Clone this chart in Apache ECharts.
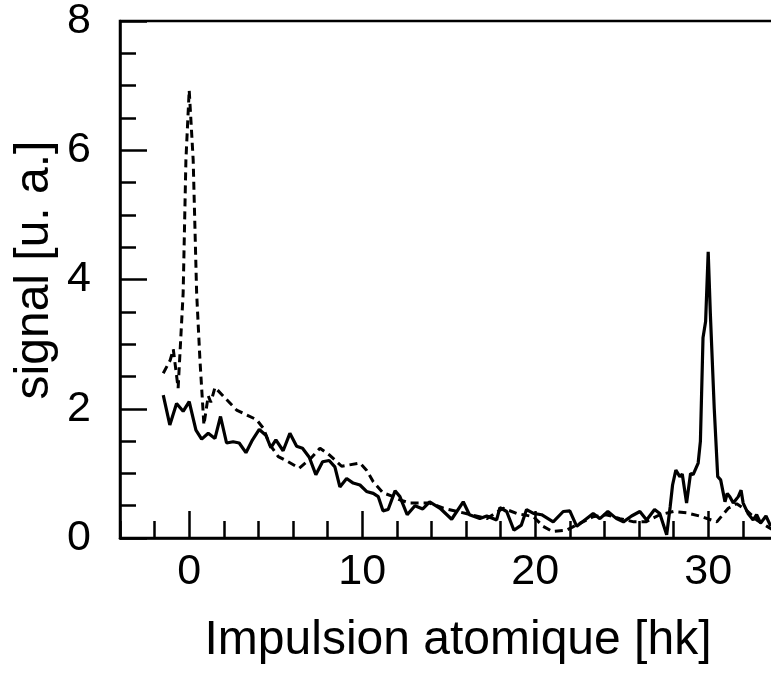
<!DOCTYPE html>
<html>
<head>
<meta charset="utf-8">
<script src="https://cdn.jsdelivr.net/npm/echarts@6/dist/echarts.min.js"></script>
<style>html,body{margin:0;padding:0;background:#fff;}#c{width:771px;height:681px;}</style>
</head>
<body>
<div id="c"></div>
<script>
// Data
const solidX = [-1.5,-1.12,-0.73,-0.35,0,0.39,0.72,1.1,1.49,1.81,2.16,2.54,2.89,3.28,3.66,4.05,4.43,4.72,5.01,5.43,5.82,6.21,6.55,6.94,7.32,7.71,8.09,8.42,8.71,9.1,9.48,9.87,10.25,10.64,10.93,11.2,11.5,11.9,12.18,12.6,13.05,13.5,13.9,14.5,15.17,15.84,16.2,16.8,17.2,17.77,17.96,18.35,18.77,19.2,19.5,19.9,20.37,21.04,21.62,22.0,22.4,22.87,23.35,23.74,24.2,24.7,25.1,25.57,26.05,26.44,26.9,27.2,27.6,27.8,27.94,28.13,28.36,28.5,28.75,28.98,29.13,29.42,29.55,29.7,29.85,30.0,30.12,30.35,30.55,30.72,30.97,31.1,31.25,31.45,31.74,31.9,32.02,32.3,32.6,32.8,33.03,33.34,33.62];
const solidY = [2.21,1.75,2.08,1.96,2.11,1.67,1.53,1.62,1.54,1.88,1.47,1.49,1.47,1.32,1.52,1.68,1.59,1.40,1.52,1.35,1.62,1.42,1.39,1.25,0.98,1.18,1.20,1.10,0.79,0.92,0.85,0.82,0.72,0.69,0.64,0.42,0.44,0.73,0.64,0.36,0.50,0.45,0.56,0.46,0.29,0.56,0.36,0.30,0.34,0.28,0.47,0.41,0.12,0.20,0.44,0.38,0.36,0.25,0.41,0.42,0.18,0.28,0.38,0.30,0.41,0.30,0.25,0.34,0.41,0.28,0.44,0.38,0.05,0.48,0.82,1.05,0.95,0.99,0.54,1.00,0.98,1.16,1.5,3.1,3.35,4.43,3.5,2.0,0.95,0.90,0.56,0.69,0.64,0.54,0.64,0.74,0.54,0.38,0.28,0.36,0.23,0.34,0.18];
const dashX = [-1.5,-1.1,-0.92,-0.64,-0.35,-0.19,0,0.23,0.43,0.62,0.85,1.1,1.25,1.49,2.74,3.9,4.28,4.67,5.15,5.72,6.36,6.98,7.56,8.13,8.81,9.87,10.25,10.64,11.2,11.8,12.18,12.76,13.9,14.7,16.0,17.2,18.15,18.93,19.9,20.46,21.0,21.8,22.6,23.35,24.1,24.9,25.7,26.4,27.2,28.0,28.75,29.5,30.5,31.16,31.65,32.2,32.8,33.4,33.7];
const dashY = [2.55,2.75,2.92,2.32,3.79,5.85,6.93,5.85,3.79,2.76,1.75,2.2,2.1,2.33,1.98,1.83,1.70,1.44,1.26,1.18,1.08,1.22,1.39,1.28,1.11,1.16,1.05,0.87,0.70,0.64,0.59,0.54,0.54,0.46,0.38,0.30,0.46,0.38,0.33,0.18,0.10,0.12,0.23,0.33,0.36,0.30,0.25,0.25,0.36,0.41,0.39,0.34,0.25,0.46,0.53,0.43,0.28,0.18,0.13];
const xLabels = [0,10,20,30];
const yTicks = [0,2,4,6,8];
const xName = 'Impulsion atomique [hk]';
const yName = 'signal [u. a.]';

const FONT = '"Liberation Sans", Arial, Helvetica, sans-serif';
const chart = echarts.init(document.getElementById('c'), null, {renderer:'canvas'});
const pairs = (xs, ys) => xs.map((x,i)=>[x, ys[i]]);
chart.setOption({
  animation:false,
  backgroundColor:'#fff',
  grid:{left:120, top:21, width:657.4, height:517, show:true, borderColor:'#000', borderWidth:2.5, backgroundColor:'transparent', outerBoundsMode:'none', containLabel:false},
  xAxis:[{
    type:'value', min:-4, max:34, interval:2, position:'bottom',
    axisLine:{show:true, onZero:false, lineStyle:{color:'#000', width:2.5}},
    axisTick:{show:true, inside:true, length:27, customValues:xLabels, lineStyle:{color:'#000', width:2.5}},
    axisLabel:{show:true, customValues:xLabels, margin:13, color:'#000', fontSize:43, fontFamily:FONT},
    splitLine:{show:false}
  },{
    type:'value', min:-4, max:34, interval:2, position:'bottom', gridIndex:0,
    axisLine:{show:false, onZero:false},
    axisTick:{show:true, inside:true, length:17, lineStyle:{color:'#000', width:2.5}},
    axisLabel:{show:false},
    splitLine:{show:false}
  }],
  yAxis:{
    type:'value', min:0, max:8, interval:2, position:'left',
    axisLine:{show:true, onZero:false, lineStyle:{color:'#000', width:2.5}},
    axisTick:{show:true, inside:true, length:27, lineStyle:{color:'#000', width:2.5}},
    minorTick:{show:true, splitNumber:4, length:16, lineStyle:{color:'#000', width:2.5}},
    axisLabel:{margin:29, color:'#000', fontSize:43, fontFamily:FONT, formatter:(v)=> yTicks.includes(v)? String(v):''},
    splitLine:{show:false}
  },
  series:[{
    type:'line', data:pairs(solidX, solidY), showSymbol:false, symbol:'none',
    lineStyle:{color:'#000', width:3.2, type:'solid'}, z:3
  },{
    type:'line', data:pairs(dashX, dashY), showSymbol:false, symbol:'none',
    lineStyle:{color:'#000', width:3, type:[8,5]}, z:2
  }],
  graphic:[
    {type:'text', x:458, y:641, style:{text:xName, font:'48px '+FONT, fill:'#000', textAlign:'center', textVerticalAlign:'middle'}},
    {type:'text', x:35, y:270, rotation:Math.PI/2, style:{text:yName, font:'48px '+FONT, fill:'#000', textAlign:'center', textVerticalAlign:'middle'}}
  ]
});
</script>
</body>
</html>
